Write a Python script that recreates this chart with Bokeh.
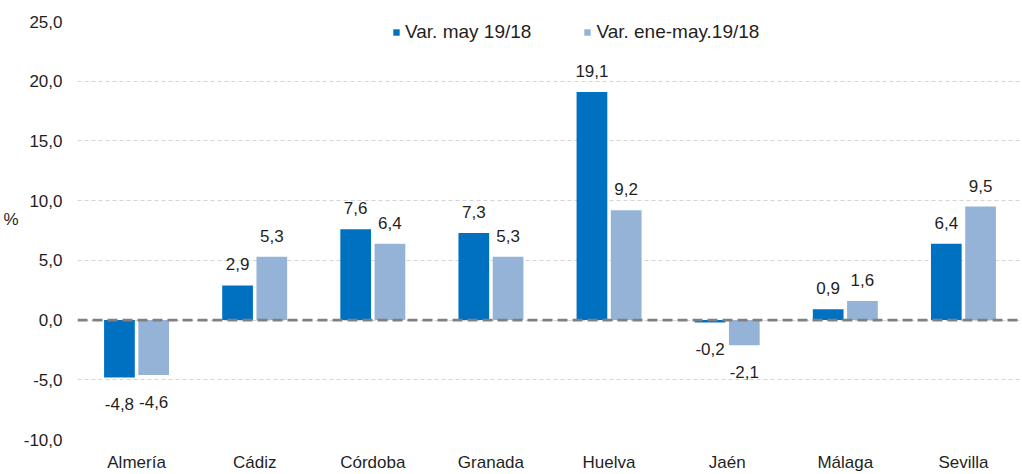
from bokeh.plotting import figure
from bokeh.models import (ColumnDataSource, FactorRange, Range1d, FixedTicker, LinearAxis,
                          CustomJSTickFormatter, Span, LabelSet, Legend, LegendItem)
from bokeh.core.properties import value
from bokeh.transform import dodge
from bokeh.embed import file_html
from bokeh.resources import INLINE

provinces = ["Almería", "Cádiz", "Córdoba", "Granada", "Huelva", "Jaén", "Málaga", "Sevilla"]
var_may = [-4.8, 2.9, 7.6, 7.3, 19.1, -0.2, 0.9, 6.4]
var_ene_may = [-4.6, 5.3, 6.4, 5.3, 9.2, -2.1, 1.6, 9.5]
series_names = ["Var. may 19/18", "Var. ene-may.19/18"]
y_ticks = [-10, -5, 0, 5, 10, 15, 20, 25]
y_unit = "%"

DARK = "#0070C0"
LIGHT = "#95B3D7"
FONT = "Liberation Sans"
TXT = "#1f1f1f"


def fmt(v):
    return f"{v:.1f}".replace(".", ",")


def offs(vals):
    return [21 if v >= 0 else -27 for v in vals]


src = ColumnDataSource(dict(
    prov=provinces,
    a=var_may, b=var_ene_may,
    la=[fmt(v) for v in var_may], lb=[fmt(v) for v in var_ene_may],
    oa=offs(var_may), ob=offs(var_ene_may),
))

p = figure(x_range=FactorRange(*provinces), y_range=Range1d(-10, 25),
           width=1022, height=474, output_backend="svg", toolbar_location=None,
           min_border_left=77, min_border_right=0, min_border_top=21, min_border_bottom=34)
p.outline_line_color = None
p.background_fill_color = "white"

ra = p.vbar(x=dodge("prov", -0.145, range=p.x_range), top="a", bottom=0, width=0.26,
            source=src, fill_color=DARK, line_color=None)
rb = p.vbar(x=dodge("prov", 0.145, range=p.x_range), top="b", bottom=0, width=0.26,
            source=src, fill_color=LIGHT, line_color=None)

p.add_layout(Span(location=0, dimension="width", line_color="#808080",
                  line_width=2.8, line_dash="10 5"))

for col, lab, off, dx in (("a", "la", "oa", -0.145), ("b", "lb", "ob", 0.145)):
    p.add_layout(LabelSet(x=dodge("prov", dx, range=p.x_range), y=col, text=lab,
                          y_offset=off, source=src, text_align="center",
                          text_baseline="middle", text_font=value(FONT),
                          text_font_size=value("17px"), text_color=TXT))

# outer axis carrying only the "%" unit label
unit_axis = LinearAxis(ticker=FixedTicker(ticks=[8.4]),
                       formatter=CustomJSTickFormatter(code="return '%s';" % y_unit))
p.add_layout(unit_axis, "left")

# axes
p.yaxis[0].ticker = FixedTicker(ticks=y_ticks)
p.yaxis[0].formatter = CustomJSTickFormatter(code="return tick.toFixed(1).replace('.', ',');")
for ax in (p.xaxis[0], p.yaxis[0], unit_axis):
    ax.axis_line_color = None
    ax.major_tick_line_color = None
    ax.minor_tick_line_color = None
    ax.major_tick_out = 0
    ax.major_tick_in = 0
    ax.minor_tick_out = 0
    ax.minor_tick_in = 0
    ax.major_label_text_font = FONT
    ax.major_label_text_font_size = "17px"
    ax.major_label_text_color = TXT
p.yaxis[0].major_label_standoff = 15
unit_axis.major_label_standoff = 2
p.xaxis[0].major_label_standoff = 13

p.xgrid.grid_line_color = None
p.ygrid.grid_line_color = "#d4d4d4"
p.ygrid.grid_line_dash = "4 3"
p.ygrid.grid_line_width = 1

legend = Legend(items=[LegendItem(label=series_names[0], renderers=[ra]),
                       LegendItem(label=series_names[1], renderers=[rb])],
                orientation="horizontal", location=(315, 396),
                border_line_color=None, background_fill_alpha=0,
                label_text_font=FONT, label_text_font_size="19px", label_text_color=TXT,
                glyph_width=8, glyph_height=8, label_standoff=5, spacing=52,
                padding=1, margin=0)
p.add_layout(legend)

open("out.html", "w").write(file_html(p, INLINE))
